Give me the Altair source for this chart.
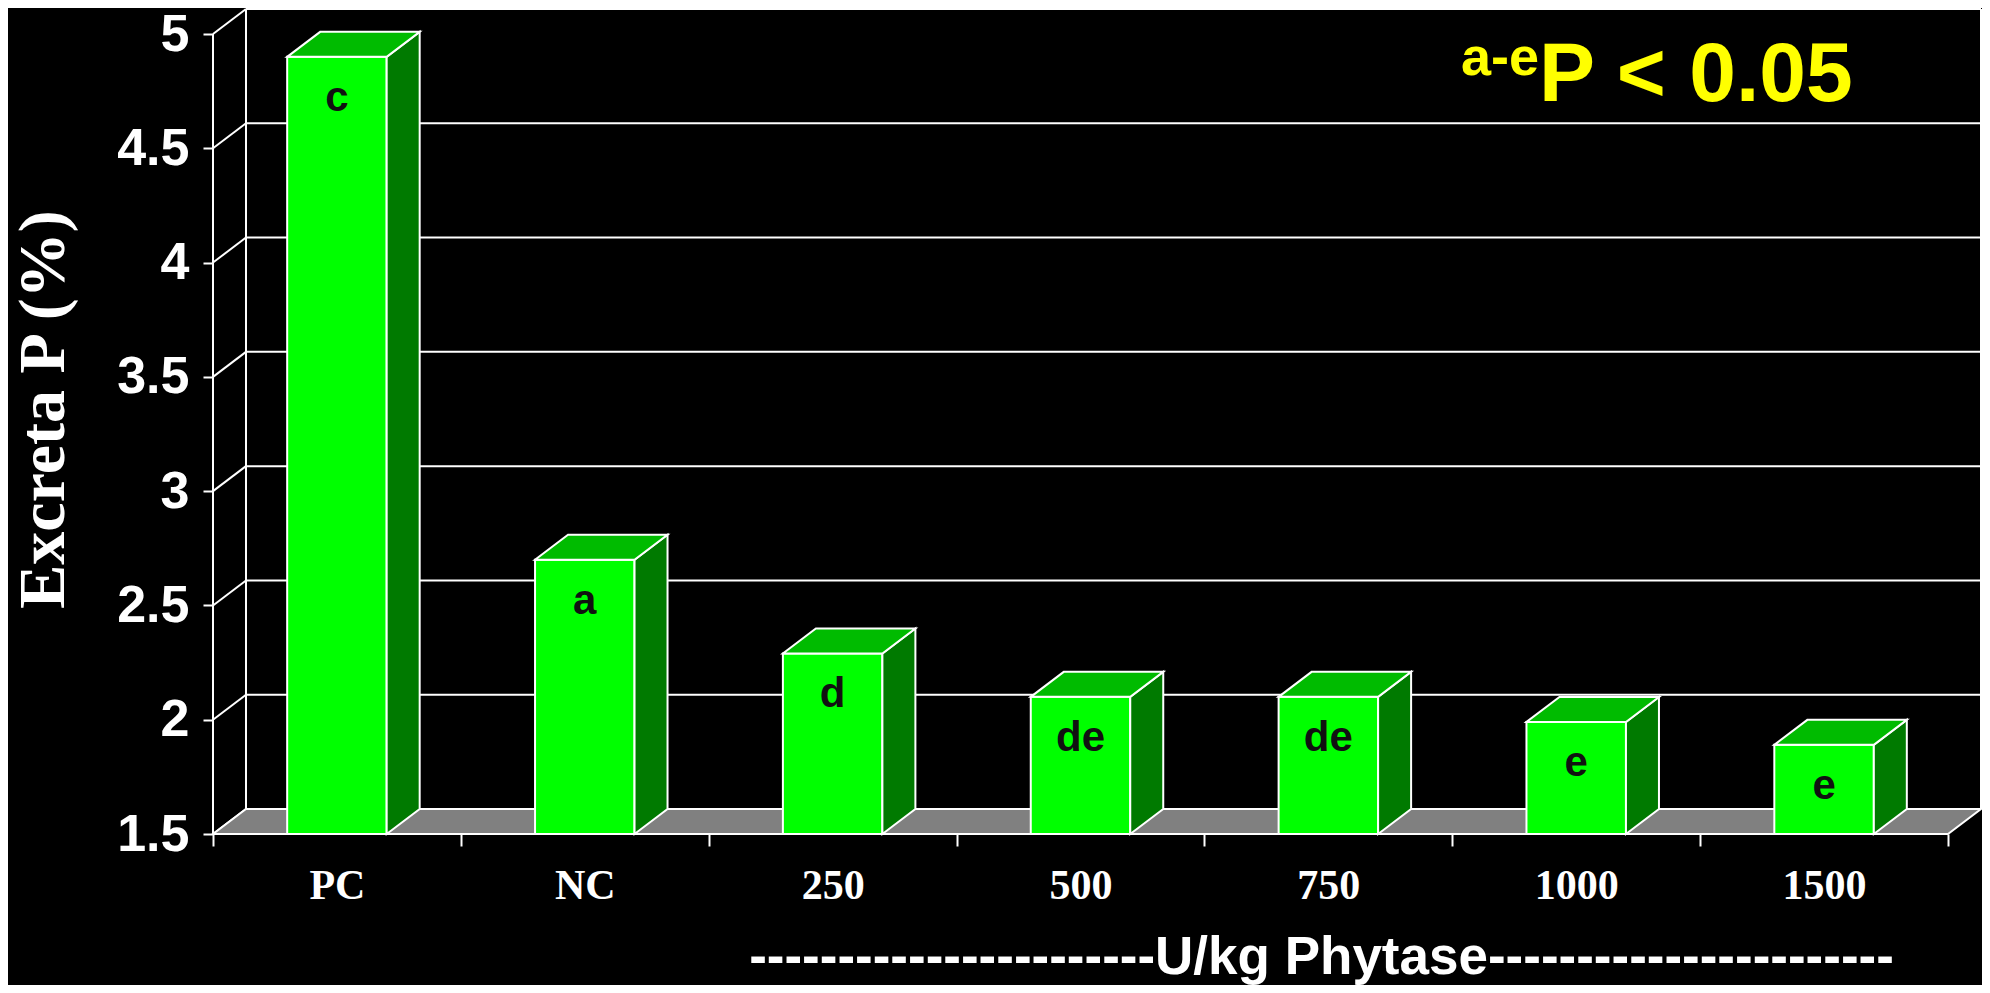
import json
import altair as alt
import pandas as pd

# ---------------- data ----------------
categories = ["PC", "NC", "250", "500", "750", "1000", "1500"]
values = [4.90, 2.70, 2.29, 2.10, 2.10, 1.99, 1.89]
letters = ["c", "a", "d", "de", "de", "e", "e"]
y_ticks = [1.5, 2, 2.5, 3, 3.5, 4, 4.5, 5]
y_title = "Excreta P (%)"
x_title = "-" * 23 + "U/kg Phytase" + "-" * 23
ann_sup = "a-e"
ann_main = "P < 0.05"

# ---------------- layout / style ----------------
Y0, YMAX = 1.5, 5.0
BAND = 247.86          # px per category
PX_PER_UNIT = 228.57   # px per y unit
DEPTH_X, DEPTH_Y = 33, 25  # 3-D depth offset in px
BAR_PX = 99.5

N = len(categories)
dxu = DEPTH_X / BAND
dyu = DEPTH_Y / PX_PER_UNIT
W = round(N * BAND + DEPTH_X)
H = round((YMAX - Y0) * PX_PER_UNIT + DEPTH_Y)
XMAX = N + dxu
YTOP = YMAX + dyu
bw = BAR_PX / BAND

FRONT = "#00FF00"
SIDE = "#007A00"
TOP = "#00BB00"
FLOOR = "#808080"
LINE = "#FFFFFF"

XS = alt.Scale(domain=[0, XMAX], nice=False, zero=False)
YS = alt.Scale(domain=[Y0, YTOP], nice=False, zero=False)

cat_arr = json.dumps(categories)
XAX = alt.Axis(
    values=list(range(N + 1)), tickSize=12, tickWidth=2, tickColor=LINE,
    domain=False, grid=False, labelOffset=BAND / 2, labelFlush=False,
    labelOverlap=False,
    labelExpr=f"datum.value < {N} ? {cat_arr}[datum.value] : ''",
    labelFont="Liberation Serif", labelFontWeight="bold", labelFontSize=42,
    labelColor="white", labelBaseline="alphabetic", labelPadding=52,
    title=x_title, titleFont="Liberation Sans", titleFontWeight="bold",
    titleFontSize=53, titleColor="white", titleAlign="center",
    titleBaseline="alphabetic", titleX=1108, titleY=139,
)
YAX = alt.Axis(
    values=y_ticks, tickSize=10, tickWidth=2, tickColor=LINE,
    domain=False, grid=False, labelFlush=False, labelOverlap=False,
    labelExpr="toString(datum.value)",
    labelFont="Liberation Sans", labelFontWeight="bold", labelFontSize=52,
    labelColor="white", labelPadding=14, labelBaseline="middle",
    title=y_title, titleFont="Liberation Serif", titleFontWeight="bold",
    titleFontSize=66, titleColor="white", titleAngle=270,
    titleAlign="center", titleBaseline="middle", titleX=-170, titleY=400,
)


def X(field):
    return alt.X(field, type="quantitative", scale=XS, axis=XAX)


def Y(field):
    return alt.Y(field, type="quantitative", scale=YS, axis=YAX)


# ---------------- derived tables ----------------
bars = pd.DataFrame({
    "cat": categories,
    "val": values,
    "letter": letters,
    "i": list(range(N)),
})
bars["xc"] = bars["i"] + 0.5
bars["x1"] = bars["xc"] - bw / 2
bars["x2"] = bars["xc"] + bw / 2
bars["base"] = Y0

side_rows, top_rows = [], []
for _, r in bars.iterrows():
    side_rows += [
        {"bar": r["cat"], "x": r["x2"], "y": Y0, "y2": r["val"]},
        {"bar": r["cat"], "x": r["x2"] + dxu, "y": Y0 + dyu, "y2": r["val"] + dyu},
    ]
    top_rows += [
        {"bar": r["cat"], "x": r["x1"], "y": r["val"], "y2": r["val"]},
        {"bar": r["cat"], "x": r["x1"] + dxu, "y": r["val"], "y2": r["val"] + dyu},
        {"bar": r["cat"], "x": r["x2"], "y": r["val"], "y2": r["val"] + dyu},
        {"bar": r["cat"], "x": r["x2"] + dxu, "y": r["val"] + dyu, "y2": r["val"] + dyu},
    ]
side = pd.DataFrame(side_rows)
top = pd.DataFrame(top_rows)

floor = pd.DataFrame([
    {"x": 0, "y": Y0, "y2": Y0},
    {"x": dxu, "y": Y0, "y2": Y0 + dyu},
    {"x": N, "y": Y0, "y2": Y0 + dyu},
    {"x": N + dxu, "y": Y0 + dyu, "y2": Y0 + dyu},
])

segs = []
for v in y_ticks:
    segs.append({"x": 0, "y": v, "x2": dxu, "y2": v + dyu})          # left wall diagonal
    if v > Y0:
        segs.append({"x": dxu, "y": v + dyu, "x2": N + dxu, "y2": v + dyu})  # back gridline
segs.append({"x": dxu, "y": Y0 + dyu, "x2": dxu, "y2": YMAX + dyu})
segs.append({"x": N + dxu, "y": Y0 + dyu, "x2": N + dxu, "y2": YMAX + dyu})
segs.append({"x": 0, "y": Y0, "x2": 0, "y2": YMAX})
segs = pd.DataFrame(segs)

# ---------------- layers ----------------
grid = alt.Chart(segs).mark_rule(color=LINE, strokeWidth=2).encode(
    x=X("x"), x2="x2", y=Y("y"), y2="y2"
)
floor_l = alt.Chart(floor).mark_area(
    fill=FLOOR, stroke=LINE, strokeWidth=2, opacity=1, orient="vertical"
).encode(x=X("x"), y=Y("y"), y2="y2")

front = alt.Chart(bars).mark_rect(fill=FRONT, stroke=LINE, strokeWidth=2).encode(
    x=X("x1"), x2="x2", y=Y("base"), y2="val"
)
side_l = alt.Chart(side).mark_area(
    fill=SIDE, stroke=LINE, strokeWidth=2, opacity=1, orient="vertical"
).encode(x=X("x"), y=Y("y"), y2="y2", detail="bar:N")
top_l = alt.Chart(top).mark_area(
    fill=TOP, stroke=LINE, strokeWidth=2, opacity=1, orient="vertical"
).encode(x=X("x"), y=Y("y"), y2="y2", detail="bar:N")

labels = alt.Chart(bars).mark_text(
    font="Liberation Sans", fontWeight="bold", fontSize=42, color="#111111",
    baseline="alphabetic", align="center", dy=54,
).encode(x=X("xc"), y=Y("val"), text="letter:N")

ann = pd.DataFrame({"sup": [ann_sup], "main": [ann_main]})
ann_main_l = alt.Chart(ann).mark_text(
    font="Liberation Sans", fontWeight="bold", fontSize=84, color="#FFFF00",
    align="left", baseline="alphabetic",
).encode(x=alt.value(1326), y=alt.value(92), text="main:N")
ann_sup_l = alt.Chart(ann).mark_text(
    font="Liberation Sans", fontWeight="bold", fontSize=54, color="#FFFF00",
    align="right", baseline="alphabetic",
).encode(x=alt.value(1326), y=alt.value(66), text="sup:N")

chart = alt.layer(
    grid, floor_l, front, side_l, top_l, labels, ann_main_l, ann_sup_l
).properties(
    width=W, height=H,
    padding={"left": 205, "top": 1, "right": 1, "bottom": 151},
    autosize=alt.AutoSizeParams(type="none"),
).configure(background="black").configure_view(stroke=None)

chart.save("out.html", embed_options={"renderer": "svg", "actions": False})
